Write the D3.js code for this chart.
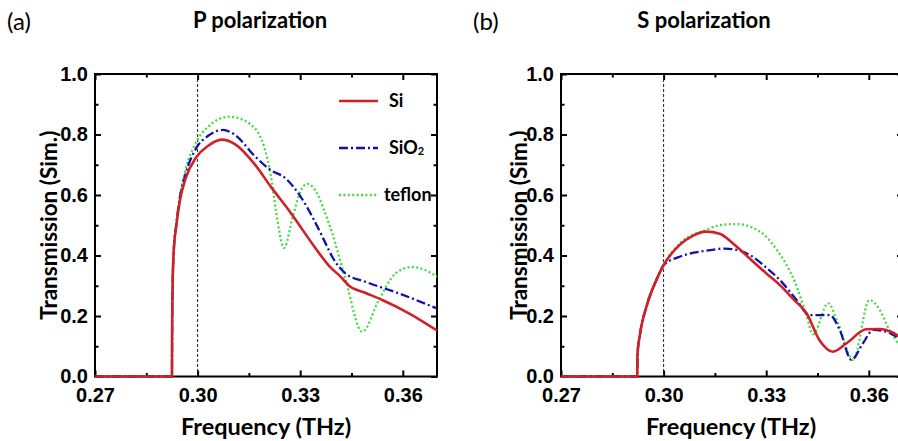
<!DOCTYPE html>
<html><head><meta charset="utf-8">
<script src="https://cdn.jsdelivr.net/npm/d3@7"></script>
<style>body{margin:0;background:#fff}svg{display:block}</style>
</head><body>
<svg id="c" width="898" height="441"></svg>
<script>
// ---- data (frequency THz, transmission) ----
const xTicks = [0.27, 0.30, 0.33, 0.36];
const xMinor = [0.285, 0.315, 0.345];
const yTicks = [0.0, 0.2, 0.4, 0.6, 0.8, 1.0];
const yMinor = [0.1, 0.3, 0.5, 0.7, 0.9];
const seriesNames = ["Si", "SiO2", "teflon"];

const pSi = [[0.27,0],[0.2925,0],[0.29255,0.15],[0.2927,0.3],[0.293,0.41],[0.2938,0.50],[0.2948,0.58],[0.2965,0.655],[0.2996,0.725],[0.303,0.762],[0.307,0.783],[0.3108,0.769],[0.3166,0.703],[0.3215,0.626],[0.3273,0.54],[0.3341,0.43],[0.3385,0.365],[0.3418,0.33],[0.3443,0.30],[0.349,0.277],[0.354,0.253],[0.3618,0.209],[0.37,0.152]];
const pSiO2 = [[0.27,0],[0.2925,0],[0.29255,0.15],[0.2927,0.3],[0.293,0.41],[0.2938,0.505],[0.2948,0.59],[0.2965,0.67],[0.2996,0.755],[0.303,0.795],[0.3074,0.815],[0.3108,0.80],[0.3166,0.73],[0.3215,0.681],[0.3253,0.659],[0.3302,0.593],[0.3341,0.516],[0.337,0.45],[0.3394,0.395],[0.3433,0.34],[0.3491,0.313],[0.3588,0.275],[0.37,0.225]];
const pTeflon = [[0.27,0],[0.2925,0],[0.29255,0.15],[0.2927,0.3],[0.293,0.41],[0.2938,0.505],[0.2948,0.595],[0.2965,0.685],[0.2996,0.775],[0.303,0.825],[0.3093,0.859],[0.3125,0.852],[0.3155,0.833],[0.318,0.80],[0.3195,0.758],[0.3215,0.659],[0.3229,0.549],[0.3253,0.425],[0.3278,0.527],[0.3302,0.615],[0.3321,0.637],[0.335,0.604],[0.337,0.549],[0.3394,0.472],[0.3433,0.319],[0.3481,0.148],[0.353,0.253],[0.3579,0.341],[0.3627,0.362],[0.3665,0.352],[0.37,0.33]];

const sSi = [[0.27,0],[0.2923,0],[0.29235,0.07],[0.2931,0.14],[0.295,0.231],[0.2979,0.319],[0.30,0.368],[0.3047,0.435],[0.3085,0.465],[0.3125,0.479],[0.3164,0.472],[0.3203,0.44],[0.325,0.392],[0.33,0.341],[0.334,0.302],[0.338,0.255],[0.3418,0.209],[0.3456,0.12],[0.3495,0.082],[0.3535,0.11],[0.3593,0.156],[0.3632,0.157],[0.37,0.125]];
const sSiO2 = [[0.27,0],[0.2923,0],[0.29235,0.07],[0.2931,0.14],[0.295,0.231],[0.2979,0.319],[0.30,0.368],[0.3047,0.396],[0.3125,0.416],[0.318,0.423],[0.3203,0.421],[0.3252,0.402],[0.33,0.36],[0.334,0.319],[0.3389,0.253],[0.3427,0.203],[0.3486,0.203],[0.3515,0.154],[0.3549,0.055],[0.3583,0.11],[0.3613,0.154],[0.3651,0.148],[0.37,0.115]];
const sTeflon = [[0.27,0],[0.2923,0],[0.29235,0.07],[0.2931,0.14],[0.295,0.235],[0.2979,0.322],[0.30,0.37],[0.3047,0.44],[0.3125,0.485],[0.3164,0.5],[0.3213,0.504],[0.326,0.492],[0.33,0.462],[0.333,0.42],[0.3359,0.37],[0.3385,0.31],[0.3418,0.2],[0.3437,0.14],[0.3481,0.242],[0.351,0.176],[0.3554,0.055],[0.3602,0.253],[0.3632,0.22],[0.366,0.154],[0.37,0.09]];

// ---- styles ----
const colors = {Si:"#d0202a", SiO2:"#1212a8", teflon:"#3fdc3f"};
const dashes = {Si:null, SiO2:"9,3,2,3", teflon:"2,2.4"};
const widths = {Si:2.6, SiO2:2.3, teflon:2.3};

const svg = d3.select("#c");
const yTop = 74, yBottom = 376.5;
const panels = [
  {x0:95, x1:437, title:"P polarization", titleX:260, tag:"(a)", tagX:7, ylabX:57, xlabX:266,
   data:{Si:pSi, SiO2:pSiO2, teflon:pTeflon}, legend:true},
  {x0:561, x1:903, title:"S polarization", titleX:704, tag:"(b)", tagX:473, ylabX:527, xlabX:731,
   data:{Si:sSi, SiO2:sSiO2, teflon:sTeflon}, legend:false}
];

const tickFont = "bold 20px 'Liberation Sans', Arial, sans-serif";

panels.forEach((p,i) => {
  const x = d3.scaleLinear().domain([0.27,0.37]).range([p.x0,p.x1]);
  const y = d3.scaleLinear().domain([0,1]).range([yBottom,yTop]);
  const g = svg.append("g");

  const cid = "clip"+i;
  svg.append("clipPath").attr("id",cid).append("rect")
    .attr("x",p.x0-2).attr("y",yTop).attr("width",p.x1-p.x0+4).attr("height",yBottom-yTop+2);

  g.append("rect").attr("x",p.x0).attr("y",yTop).attr("width",p.x1-p.x0).attr("height",yBottom-yTop)
    .attr("fill","none").attr("stroke","#000").attr("stroke-width",2);

  const styleAxis = sel => {
    sel.select(".domain").remove();
    sel.selectAll(".tick line").attr("stroke","#000").attr("stroke-width",2);
    sel.selectAll("text").style("font",tickFont).attr("fill","#000");
  };

  g.append("g").attr("transform",`translate(0,${yBottom})`)
    .call(d3.axisBottom(x).tickValues(xTicks).tickSize(-6).tickPadding(11).tickFormat(d3.format(".2f")))
    .call(styleAxis);
  g.append("g").attr("transform",`translate(0,${yBottom})`)
    .call(d3.axisBottom(x).tickValues(xMinor).tickSize(-3.5).tickFormat(""))
    .call(styleAxis);
  g.append("g").attr("transform",`translate(0,${yTop})`)
    .call(d3.axisTop(x).tickValues(xTicks).tickSize(-6).tickFormat(""))
    .call(styleAxis);
  g.append("g").attr("transform",`translate(0,${yTop})`)
    .call(d3.axisTop(x).tickValues(xMinor).tickSize(-3.5).tickFormat(""))
    .call(styleAxis);
  g.append("g").attr("transform",`translate(${p.x0},0)`)
    .call(d3.axisLeft(y).tickValues(yTicks).tickSize(-6).tickPadding(7).tickFormat(d3.format(".1f")))
    .call(styleAxis)
    .selectAll("text").attr("dy","0.3em");
  g.append("g").attr("transform",`translate(${p.x0},0)`)
    .call(d3.axisLeft(y).tickValues(yMinor).tickSize(-3.5).tickFormat(""))
    .call(styleAxis);
  g.append("g").attr("transform",`translate(${p.x1},0)`)
    .call(d3.axisRight(y).tickValues(yTicks).tickSize(-6).tickFormat(""))
    .call(styleAxis);
  g.append("g").attr("transform",`translate(${p.x1},0)`)
    .call(d3.axisRight(y).tickValues(yMinor).tickSize(-3.5).tickFormat(""))
    .call(styleAxis);

  g.append("line").attr("x1",x(0.30)).attr("x2",x(0.30)).attr("y1",yTop).attr("y2",yBottom)
    .attr("stroke","#222").attr("stroke-width",1).attr("stroke-dasharray","3,2");

  const line = d3.line().x(d=>x(d[0])).y(d=>y(d[1])).curve(d3.curveMonotoneX);
  const lg = g.append("g").attr("clip-path",`url(#${cid})`);
  ["teflon","SiO2","Si"].forEach(k => {
    lg.append("path").datum(p.data[k]).attr("d",line)
      .attr("fill","none").attr("stroke",colors[k]).attr("stroke-width",widths[k])
      .attr("stroke-dasharray",dashes[k]).attr("stroke-linejoin","round");
  });

  svg.append("text").attr("x",p.titleX).attr("y",28).attr("text-anchor","middle")
    .style("font","bold 22px Lato, 'Open Sans', sans-serif").text(p.title);
  svg.append("text").attr("x",p.tagX).attr("y",30)
    .style("font","24px Lato, 'Open Sans', sans-serif").text(p.tag);
  svg.append("text").attr("transform",`translate(${p.ylabX},${(yTop+yBottom)/2}) rotate(-90)`)
    .attr("text-anchor","middle")
    .style("font","bold 22.5px Lato, 'Open Sans', sans-serif").text("Transmission (Sim.)");
  svg.append("text").attr("x",p.xlabX).attr("y",435).attr("text-anchor","middle")
    .style("font","bold 23.5px Lato, 'Open Sans', sans-serif").text("Frequency (THz)");

  if (p.legend) {
    const ly = [101, 148, 195];
    const lx = [389, 389, 384];
    seriesNames.forEach((k,j) => {
      svg.append("line").attr("x1",339).attr("x2",378).attr("y1",ly[j]).attr("y2",ly[j])
        .attr("stroke",colors[k]).attr("stroke-width",widths[k]).attr("stroke-dasharray",dashes[k]);
      const t = svg.append("text").attr("x",lx[j]).attr("y",ly[j]+6)
        .style("font","bold 18px Lato, 'Open Sans', sans-serif");
      if (k === "SiO2") {
        t.append("tspan").text("SiO");
        t.append("tspan").attr("font-size","11px").attr("dy","1").text("2");
      } else t.text(k);
    });
  }
});
</script>
</body></html>
